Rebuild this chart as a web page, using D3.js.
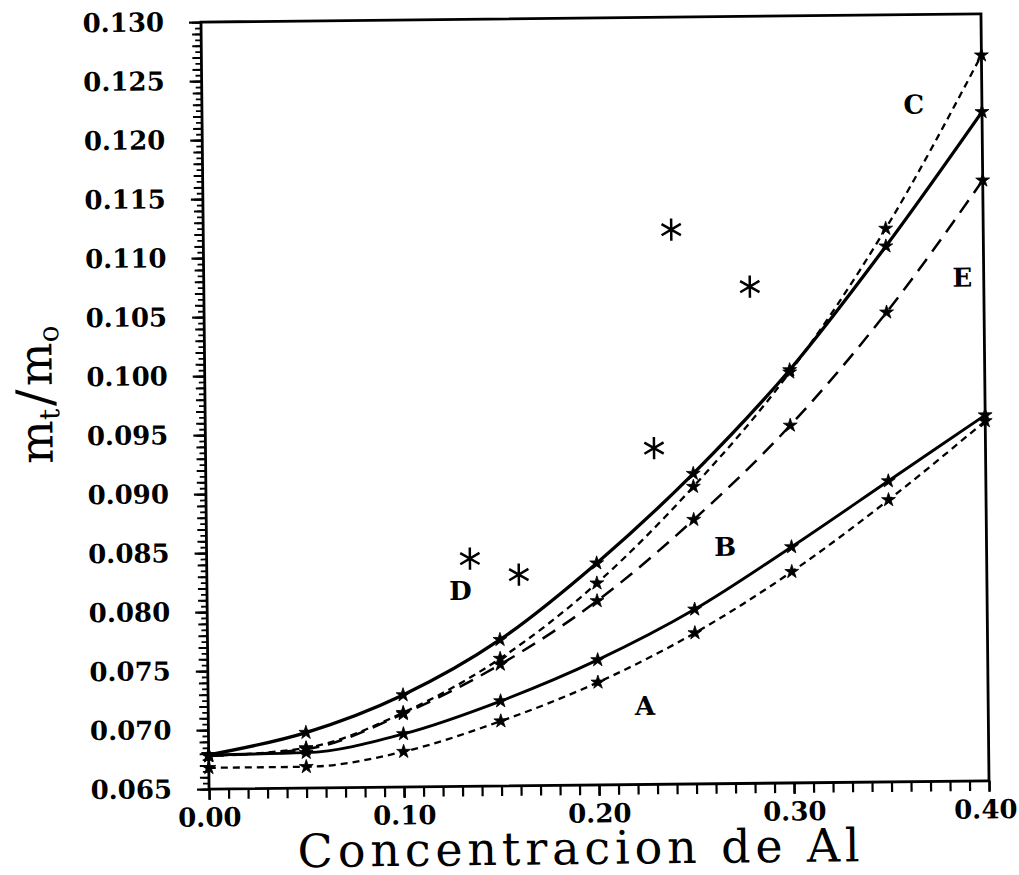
<!DOCTYPE html>
<html>
<head>
<meta charset="utf-8">
<script src="https://cdn.jsdelivr.net/npm/d3@7"></script>
<style>
  body { margin: 0; background: #fff; }
  svg { display: block; }
</style>
</head>
<body>
<script>
var width = 1019;
var height = 875;
var plotLeft = 205, plotRight = 985, plotTop = 18, plotBottom = 785;

// data
var concentracion = [0, 0.05, 0.10, 0.15, 0.20, 0.25, 0.30, 0.35, 0.40];
var curvaA = [0.0668, 0.0668, 0.0680, 0.0705, 0.0737, 0.0778, 0.0829, 0.0889, 0.0955];
var curvaB = [0.0679, 0.0680, 0.0695, 0.0722, 0.0756, 0.0798, 0.0850, 0.0905, 0.0960];
var curvaC = [0.0678, 0.0684, 0.0713, 0.0758, 0.0821, 0.0902, 0.0998, 0.1119, 0.1265];
var curvaD = [0.0679, 0.0697, 0.0728, 0.0774, 0.0838, 0.0913, 0.1000, 0.1104, 0.1217];
var curvaE = [0.0678, 0.0683, 0.0712, 0.0753, 0.0806, 0.0874, 0.0953, 0.1048, 0.1159];

// experimental points (asterisks)
var expX = [0.135, 0.160, 0.230, 0.240, 0.280];
var expY = [0.0843, 0.0829, 0.0935, 0.1120, 0.1071];

var yTicks = [0.065, 0.070, 0.075, 0.080, 0.085, 0.090, 0.095, 0.100, 0.105, 0.110, 0.115, 0.120, 0.125, 0.130];
var xTicks = [0.00, 0.10, 0.20, 0.30, 0.40];

var labelNames = ['A', 'B', 'C', 'D', 'E'];
var labelX = [0.224, 0.266, 0.365, 0.130, 0.389];
var labelY = [0.0717, 0.0851, 0.1224, 0.0816, 0.1077];

var curves = [
  { name: 'A', values: curvaA },
  { name: 'B', values: curvaB },
  { name: 'C', values: curvaC },
  { name: 'D', values: curvaD },
  { name: 'E', values: curvaE }
];

// line look per curve
var styles = {
  A: { dash: '7,5', w: 2.3 },
  B: { dash: null, w: 2.9 },
  C: { dash: '7,5', w: 2.3 },
  D: { dash: null, w: 3.3 },
  E: { dash: '15,9', w: 2.5 }
};

var x = d3.scaleLinear().domain([0, 0.40]).range([plotLeft, plotRight]);
var y = d3.scaleLinear().domain([0.065, 0.130]).range([plotBottom, plotTop]);

var svg = d3.select('body').append('svg')
  .attr('width', width)
  .attr('height', height);

// the scan is tilted a little
var root = svg.append('g')
  .attr('transform', 'rotate(-0.6 594 401)');

// minor ticks
var yMinor2 = d3.range(0, 131).map(function (i) { return 0.065 + i * 0.0005; });
var yMinor1 = d3.range(0, 66).map(function (i) { return 0.065 + i * 0.001; });
var xMinor = d3.range(0, 41).map(function (i) { return i * 0.01; });

function plainTicks(g, w) {
  g.select('.domain').remove();
  g.selectAll('line').attr('stroke', '#000').attr('stroke-width', w);
}

function noText(g) {
  g.selectAll('text').remove();
}

root.append('g')
  .attr('transform', 'translate(' + plotLeft + ',0)')
  .call(d3.axisLeft(y).tickValues(yMinor2).tickSize(6).tickFormat(''))
  .call(plainTicks, 1.8)
  .call(noText);

root.append('g')
  .attr('transform', 'translate(' + plotLeft + ',0)')
  .call(d3.axisLeft(y).tickValues(yMinor1).tickSize(9).tickFormat(''))
  .call(plainTicks, 2)
  .call(noText);

root.append('g')
  .attr('transform', 'translate(' + plotLeft + ',0)')
  .call(d3.axisLeft(y).tickValues(yTicks).tickSize(12).tickPadding(25).tickFormat(d3.format('.3f')))
  .call(plainTicks, 2.2);

root.append('g')
  .attr('transform', 'translate(0,' + plotBottom + ')')
  .call(d3.axisBottom(x).tickValues(xMinor).tickSize(10).tickFormat(''))
  .call(plainTicks, 2.2)
  .call(noText);

var xAxis = root.append('g')
  .attr('transform', 'translate(0,' + plotBottom + ')')
  .call(d3.axisBottom(x).tickValues(xTicks).tickSize(11).tickPadding(8).tickFormat(d3.format('.2f')))
  .call(plainTicks, 2.4);

root.selectAll('.tick text')
  .attr('fill', '#000')
  .style('font-family', '"DejaVu Serif", serif')
  .style('font-weight', 'bold')
  .style('font-size', '26px');

// last label sits a bit in from the edge
xAxis.selectAll('.tick text')
  .filter(function (d) { return d === 0.40; })
  .attr('dx', -4);

// frame
root.append('rect')
  .attr('x', plotLeft)
  .attr('y', plotTop)
  .attr('width', plotRight - plotLeft)
  .attr('height', plotBottom - plotTop)
  .attr('fill', 'none')
  .attr('stroke', '#000')
  .attr('stroke-width', 2.8);

var line = d3.line()
  .x(function (d, i) { return x(concentracion[i]); })
  .y(function (d) { return y(d); })
  .curve(d3.curveMonotoneX);

root.selectAll('path.curve')
  .data(curves)
  .enter().append('path')
  .attr('class', 'curve')
  .attr('d', function (d) { return line(d.values); })
  .attr('fill', 'none')
  .attr('stroke', '#000')
  .attr('stroke-width', function (d) { return styles[d.name].w; })
  .attr('stroke-dasharray', function (d) { return styles[d.name].dash; });

// small markers on the curves
var marker = d3.symbol().type(d3.symbolStar).size(60);
curves.forEach(function (c) {
  root.selectAll(null)
    .data(c.values)
    .enter().append('path')
    .attr('d', marker)
    .attr('transform', function (d, i) { return 'translate(' + x(concentracion[i]) + ',' + y(d) + ')'; })
    .attr('fill', '#000')
    .attr('stroke', '#000')
    .attr('stroke-width', 0.8);
});

// big asterisks
var asterisk = d3.symbolAsterisk || {
  draw: function (context, size) {
    var r = Math.sqrt(size + Math.min(size / 28, 0.75)) * 0.59436;
    var t = r / 2, u = t * Math.sqrt(3);
    context.moveTo(0, r); context.lineTo(0, -r);
    context.moveTo(-u, -t); context.lineTo(u, t);
    context.moveTo(-u, t); context.lineTo(u, -t);
  }
};
root.selectAll('path.exp')
  .data(expX)
  .enter().append('path')
  .attr('class', 'exp')
  .attr('d', d3.symbol().type(asterisk).size(350))
  .attr('transform', function (d, i) { return 'translate(' + x(d) + ',' + y(expY[i]) + ')'; })
  .attr('fill', 'none')
  .attr('stroke', '#000')
  .attr('stroke-width', 2.5);

// curve letters
root.selectAll('text.lab')
  .data(labelNames)
  .enter().append('text')
  .attr('class', 'lab')
  .attr('x', function (d, i) { return x(labelX[i]); })
  .attr('y', function (d, i) { return y(labelY[i]); })
  .attr('dy', '0.36em')
  .attr('text-anchor', 'middle')
  .style('font-family', '"DejaVu Serif", serif')
  .style('font-weight', 'bold')
  .style('font-size', '26px')
  .text(function (d) { return d; });

// axis titles
root.append('text')
  .attr('x', 574)
  .attr('y', 864)
  .attr('text-anchor', 'middle')
  .attr('textLength', 562)
  .attr('lengthAdjust', 'spacing')
  .style('font-family', '"DejaVu Serif", serif')
  .style('font-size', '46px')
  .text('Concentracion de Al');

var yTitle = root.append('text')
  .attr('transform', 'translate(52,389) rotate(-90)')
  .attr('text-anchor', 'middle')
  .style('font-family', '"DejaVu Serif", serif')
  .style('font-size', '46px');
yTitle.append('tspan').text('m');
yTitle.append('tspan').attr('dy', 7).style('font-size', '28px').text('t');
yTitle.append('tspan').attr('dy', -7).attr('dx', 3).style('font-size', '50px').text('/');
yTitle.append('tspan').attr('dx', 3).text('m');
yTitle.append('tspan').attr('dy', 7).style('font-size', '28px').text('o');
</script>
</body>
</html>
